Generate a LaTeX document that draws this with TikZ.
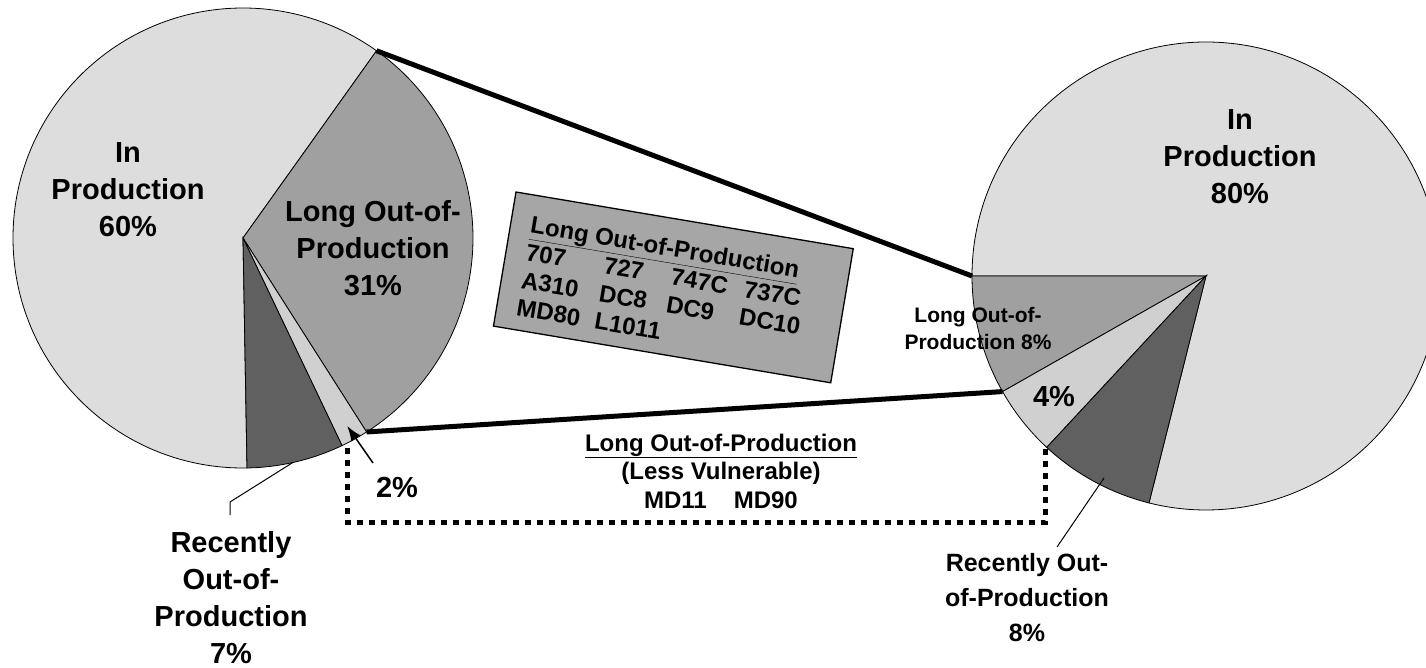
\documentclass[tikz,border=0pt]{standalone}
\usepackage{fontspec}
\setmainfont{Liberation Sans}
\usetikzlibrary{calc,arrows.meta}
\definecolor{inprod}{HTML}{DDDDDD}
\definecolor{longoop}{HTML}{A0A0A0}
\definecolor{smallc}{HTML}{D0D0D0}
\definecolor{recent}{HTML}{606060}
\definecolor{boxfill}{HTML}{A6A6A6}
\newcommand\pieslice[5]{%
  \filldraw[fill=#5, draw=black, line width=0.8pt]
    (#1) -- ($(#1)+(#3:#2)$) arc[start angle=#3, end angle=#4, radius=#2] -- cycle;}
\newcommand\ulx[1]{\underline{#1}}
\begin{document}
\begin{tikzpicture}[x=1pt,y=-1pt,
  conn/.style={line width=5pt},
  dots/.style={line width=5pt, dash pattern=on 6pt off 6pt},
  lead/.style={line width=1pt},
  biglab/.style={font=\fontsize{29}{37}\selectfont\bfseries, align=center, inner sep=0pt},
  medlab/.style={font=\fontsize{24}{28.5}\selectfont\bfseries, align=center, inner sep=0pt},
  reclab/.style={font=\fontsize{25}{35}\selectfont\bfseries, align=center, inner sep=0pt},
  smalllab/.style={font=\fontsize{21}{27}\selectfont\bfseries, align=center, inner sep=0pt},
  boxtxt/.style={font=\fontsize{24}{28}\selectfont\bfseries, inner sep=0pt, anchor=base west, transform shape}]
\useasboundingbox (0,0) rectangle (1426,668);
\clip (0,0) rectangle (1426,668);
% centres
\coordinate (C1) at (243,238);
\coordinate (C2) at (1206,276);
% left pie
\pieslice{C1}{230}{89}{305.5}{inprod}
\pieslice{C1}{230}{-54.5}{57.5}{longoop}
\pieslice{C1}{230}{57.5}{64.5}{smallc}
\pieslice{C1}{230}{64.5}{89}{recent}
% right pie
\pieslice{C2}{234}{180}{464.1}{inprod}
\pieslice{C2}{234}{150.4}{180}{longoop}
\pieslice{C2}{234}{132.9}{150.4}{smallc}
\pieslice{C2}{234}{104.1}{132.9}{recent}
% edge points
\coordinate (L0) at ($(C1)+(-54.5:230)$);
\coordinate (L1) at ($(C1)+(57.5:230)$);
\coordinate (L2) at ($(C1)+(64.5:230)$);
\coordinate (R0) at ($(C2)+(180:234)$);
\coordinate (R1) at ($(C2)+(150.4:234)$);
\coordinate (R2) at ($(C2)+(132.9:234)$);
% connectors
\draw[conn] (L0) -- (R0);
\draw[conn] (L1) -- (R1);
\coordinate (DL) at ($(L2)+(5,2)$);
\coordinate (DR) at ($(R2)+(-1,2)$);
\coordinate (DB) at (700,522);
\draw[dots] (DL) |- (DB) -| (DR);
% 2% arrow
\coordinate (A2s) at (373,463);
\coordinate (A2t) at ($(C1)+(61:215)$);
\draw[line width=1.5pt, -{Latex[length=15pt,width=11pt]}] (A2s) -- (A2t);
% leaders
\coordinate (RL1a) at (230,515);
\coordinate (RL1b) at (230,502);
\coordinate (RL1c) at ($(C1)+(77.5:230)$);
\draw[lead] (RL1a) -- (RL1b) -- (RL1c);
\coordinate (RL2a) at (1057,547);
\coordinate (RL2b) at (1104,478);
\draw[lead] (RL2a) -- (RL2b);
% labels
\node[biglab] (inprod1) at (128,190) {In\\Production\\60\%};
\node[biglab] (long1) at (373,248) {Long Out-of-\\Production\\31\%};
\node[biglab] (inprod2) at (1240,157) {In\\Production\\80\%};
\node[smalllab] (long2) at (978,328) {Long Out-of-\\Production 8\%};
\node[biglab] (p4) at (1054,397) {4\%};
\node[biglab] (p2) at (397,487) {2\%};
\node[biglab] (rec1) at (231,598) {Recently\\Out-of-\\Production\\7\%};
\node[reclab] (rec2) at (1027,598) {Recently Out-\\of-Production\\8\%};
\node[medlab] (lessv) at (721,471) {\ulx{Long Out-of-Production}\\(Less Vulnerable)\\MD11\hspace{27pt}MD90};
% rotated box
\begin{scope}[shift={(516,192)}, rotate=-9.54]
  \draw[fill=boxfill, line width=1.3pt] (0,0) rectangle (342,136);
  \node[boxtxt] (btable) at (20,38) {%
    \begin{tabular}[t]{@{}p{79pt}@{}p{68pt}@{}p{74pt}@{}l@{}}
      \multicolumn{4}{@{}l@{}}{\ulx{Long Out-of-Production}}\\
      707 & 727 & 747C & 737C\\
      A310 & DC8 & DC9 & DC10\\
      MD80 & L1011 & & \\
    \end{tabular}};
\end{scope}
\end{tikzpicture}
\end{document}
